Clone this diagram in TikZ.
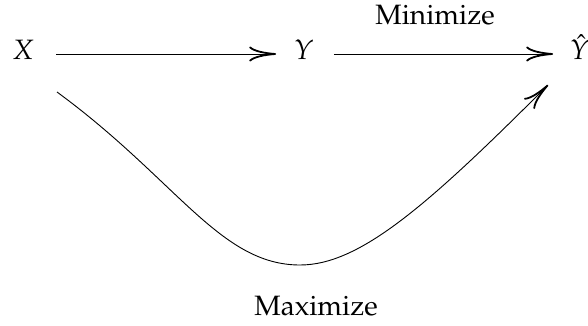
\documentclass[tikz,border=0pt]{standalone}
\usepackage[T1]{fontenc}
\usepackage{mathpazo}
\usetikzlibrary{arrows.meta}
\tikzset{
  obj/.style={font=\fontsize{28}{34}\selectfont, inner xsep=0pt, inner ysep=0pt, text height=20pt, text depth=8pt},
  lbl/.style={font=\fontsize{28}{34}\selectfont, inner sep=0pt, anchor=base},
  arr/.style={line width=0.9pt, -{Computer Modern Rightarrow[length=27pt,width=15pt,line width=1.8pt]}}
}
\begin{document}
\begin{tikzpicture}[x=1pt,y=-1pt]
\useasboundingbox (0,0) rectangle (588,326);
\node[obj] (X) at (23,54) {$X$};
\node[obj] (Y) at (304,54) {$Y$};
\node[obj] (Yh) at (580,54) {$\hat{Y}$};
\node[lbl] (min) at (435,25) {Minimize};
\node[lbl] (max) at (316,315) {Maximize};
\coordinate (cs) at (57,92);
\coordinate (bot) at (300,265);
\coordinate (ce) at (548,85);
\draw[arr, shorten <=22pt, shorten >=18pt] (X.east) -- (Y.west);
\draw[arr, shorten <=20pt, shorten >=17pt] (Y.east) -- (Yh.west);
\draw[arr] (cs) .. controls (177,180) and (220,265) .. (bot)
  .. controls (360,265) and (428,205) .. (ce);
\end{tikzpicture}
\end{document}
